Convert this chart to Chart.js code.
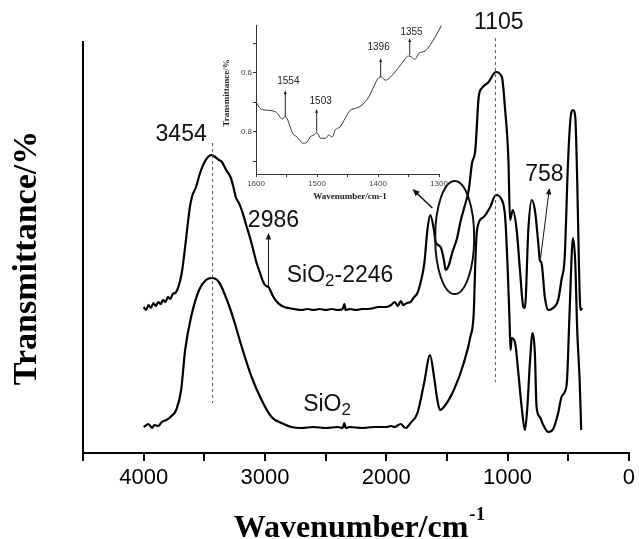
<!DOCTYPE html>
<html>
<head>
<meta charset="utf-8">
<script src="https://cdn.jsdelivr.net/npm/chart.js@4.4.0/dist/chart.umd.min.js"></script>
<style>
  html, body { margin: 0; padding: 0; background: #fff; }
  #wrap { position: relative; width: 639px; height: 539px; }
  #mainChart { position: absolute; left: 0; top: 0; }
  #insetChart { position: absolute; left: 200px; top: 0; }
</style>
</head>
<body>
<div id="wrap">
  <canvas id="mainChart" width="639" height="539"></canvas>
  <canvas id="insetChart" width="250" height="212"></canvas>
</div>
<script>
'use strict';

// SiO2-2246 spectrum (upper trace), arbitrary offset units
const upperWn = [4000, 3980, 3960, 3940, 3920, 3900, 3880, 3860, 3840, 3820, 3800, 3780, 3760, 3740, 3723, 3700,
  3682, 3662, 3642, 3620, 3600, 3568, 3535, 3502, 3470, 3440, 3410, 3380, 3355, 3320, 3281, 3260, 3241, 3215,
  3192, 3155, 3118, 3090, 3069, 3040, 3011, 2990, 2971, 2950, 2930, 2900, 2872, 2840, 2807, 2760, 2700, 2650,
  2600, 2550, 2500, 2450, 2400, 2360, 2345, 2335, 2300, 2250, 2200, 2150, 2100, 2070, 2000, 1960, 1930, 1905,
  1880, 1860, 1830, 1800, 1770, 1743, 1718, 1686, 1661, 1637, 1607, 1593, 1552, 1525, 1511, 1484, 1457, 1416,
  1389, 1356, 1320, 1293, 1266, 1238, 1211, 1156, 1097, 1047, 1020, 993, 980, 957, 925, 898, 870, 857, 829, 802,
  775, 747, 734, 720, 693, 665, 624, 583, 556, 529, 502, 480, 461, 442, 426, 412, 399, 385];
const upperT = [146, 143, 148, 145, 150, 147, 151, 149, 153, 151, 156, 154, 159, 160, 163, 172,
  183, 202, 223, 245, 257, 266, 280, 290, 296, 298, 296, 293, 291, 283, 275, 266, 256, 250,
  243, 228, 213, 200, 190, 180, 170, 167, 166, 161, 156, 151, 148, 146, 145, 144, 143, 144,
  143, 144, 143, 144, 143, 144, 149, 143, 144, 143, 144, 144, 145, 146, 146, 148, 151, 147,
  152, 148, 150, 151, 156, 160, 170, 190, 223, 238, 223, 211, 206, 193, 183, 188, 200, 215,
  231, 246, 263, 290, 303, 356, 365, 371, 381, 376, 343, 293, 233, 243, 223, 183, 146, 145, 223, 253,
  243, 210, 193, 190, 156, 143, 145, 153, 173, 196, 290, 336, 343, 336, 273, 190, 143, 145];

// SiO2 spectrum (lower trace)
const lowerWn = [4000, 3960, 3930, 3912, 3880, 3850, 3813, 3770, 3732, 3691, 3658, 3609, 3543, 3486, 3437, 3380,
  3298, 3257, 3191, 3110, 3028, 2946, 2864, 2782, 2700, 2600, 2500, 2400, 2360, 2345, 2335, 2300, 2200, 2100,
  2000, 1960, 1931, 1882, 1841, 1800, 1743, 1688, 1639, 1606, 1579, 1557, 1525, 1443, 1361, 1307, 1279, 1266,
  1252, 1197, 1143, 1097, 1047, 1020, 1001, 984, 975, 966, 938, 911, 884, 857, 837, 816, 794, 775, 761, 734, 706,
  665, 624, 583, 556, 529, 510, 489, 461, 442, 426, 406, 393];
const lowerT = [26, 29, 25, 28, 27, 31, 33, 37, 43, 63, 103, 136, 163, 173, 175, 171,
  148, 133, 106, 76, 53, 36, 30, 26, 25, 26, 25, 26, 25, 30, 25, 26, 25, 26,
  26, 27, 26, 29, 25, 30, 40, 70, 98, 76, 53, 43, 46, 63, 90, 116, 140, 190,
  223, 236, 246, 258, 253, 236, 190, 133, 103, 115, 110, 80, 46, 23, 46, 90, 120, 100, 46, 36, 28,
  21, 24, 40, 56, 61, 73, 140, 215, 190, 123, 73, 23];

// inset: 1600-1300 cm-1 detail of SiO2-2246
const insetWn = [1600, 1593, 1585, 1568, 1563, 1557, 1553, 1549, 1544, 1540, 1533, 1522, 1516, 1511, 1505, 1500,
  1494, 1486, 1481, 1475, 1470, 1462, 1454, 1445, 1437, 1426, 1415, 1407, 1400, 1395, 1388, 1382, 1372, 1361,
  1350, 1345, 1340, 1333, 1322, 1311, 1300, 1296];
const insetT = [0.698, 0.721, 0.726, 0.732, 0.743, 0.757, 0.749, 0.755, 0.783, 0.805, 0.817, 0.839, 0.834, 0.817,
  0.811, 0.803, 0.822, 0.822, 0.811, 0.817, 0.794, 0.783, 0.755, 0.726, 0.721, 0.709, 0.681, 0.647, 0.619, 0.614,
  0.625, 0.619, 0.597, 0.568, 0.543, 0.546, 0.555, 0.534, 0.525, 0.495, 0.455, 0.440];

const peakLabels = ['3454', '1105', '2986', '758'];
const insetPeaks = ['1554', '1503', '1396', '1355'];

const SANS = "'Liberation Sans', Arial, sans-serif";
const SERIF = "'Liberation Serif', 'Times New Roman', serif";

function toPoints(xs, ys) {
  return xs.map(function (x, i) { return { x: x, y: ys[i] }; });
}

function drawArrow(ctx, x1, y1, x2, y2, head, width) {
  const ang = Math.atan2(y2 - y1, x2 - x1);
  ctx.lineWidth = width;
  ctx.beginPath();
  ctx.moveTo(x1, y1);
  ctx.lineTo(x2 - Math.cos(ang) * head * 0.8, y2 - Math.sin(ang) * head * 0.8);
  ctx.stroke();
  ctx.beginPath();
  ctx.moveTo(x2, y2);
  ctx.lineTo(x2 - head * Math.cos(ang - 0.4), y2 - head * Math.sin(ang - 0.4));
  ctx.lineTo(x2 - head * Math.cos(ang + 0.4), y2 - head * Math.sin(ang + 0.4));
  ctx.closePath();
  ctx.fill();
}

// text with a subscript piece, centred on (cx, cy)
function drawParts(ctx, parts, cx, cy, size) {
  const subSize = Math.round(size * 0.72);
  let total = 0;
  parts.forEach(function (p) {
    ctx.font = (p.sub ? subSize : size) + 'px ' + SANS;
    p.w = ctx.measureText(p.t).width;
    total += p.w;
  });
  let x = cx - total / 2;
  ctx.textAlign = 'left';
  ctx.textBaseline = 'middle';
  parts.forEach(function (p) {
    ctx.font = (p.sub ? subSize : size) + 'px ' + SANS;
    ctx.fillText(p.t, x, p.sub ? cy + size * 0.22 : cy);
    x += p.w;
  });
}

const mainNotes = {
  id: 'mainNotes',
  afterDraw: function (chart) {
    const ctx = chart.ctx;
    const sx = chart.scales.x, sy = chart.scales.y;
    const px = function (w) { return sx.getPixelForValue(w); };
    const py = function (v) { return sy.getPixelForValue(v); };
    ctx.save();

    // dashed peak markers
    ctx.strokeStyle = '#555';
    ctx.lineWidth = 1;
    ctx.setLineDash([3, 3]);
    ctx.beginPath();
    ctx.moveTo(px(3432), py(310)); ctx.lineTo(px(3432), py(50));
    ctx.moveTo(px(1100), py(415)); ctx.lineTo(px(1100), py(71));
    ctx.stroke();
    ctx.setLineDash([]);

    ctx.fillStyle = '#111';
    ctx.strokeStyle = '#111';
    ctx.font = '23px ' + SANS;
    ctx.textAlign = 'center';
    ctx.textBaseline = 'middle';
    ctx.fillText(peakLabels[0], px(3691), py(318));
    ctx.fillText(peakLabels[1], px(1072), py(430));
    ctx.fillText(peakLabels[2], px(2930), py(232));
    ctx.fillText(peakLabels[3], px(696), py(278));

    drawParts(ctx, [{ t: 'SiO' }, { t: '2', sub: true }, { t: '-2246' }], px(2381), py(177), 23);
    drawParts(ctx, [{ t: 'SiO' }, { t: '2', sub: true }], px(2488), py(48), 23);

    drawArrow(ctx, px(2971), py(166), px(2971), py(220), 7, 1);
    drawArrow(ctx, px(728), py(195), px(655), py(265), 7, 1);
    drawArrow(ctx, px(1620), py(245), px(1784), py(264), 8, 1.5);

    // ellipse round the 1600-1300 region
    ctx.lineWidth = 2;
    ctx.beginPath();
    ctx.ellipse(px(1436), py(215.5), 19.5, 56.5, 0, 0, Math.PI * 2);
    ctx.stroke();

    // axis titles
    ctx.fillStyle = '#000';
    ctx.font = 'bold 34px ' + SERIF;
    ctx.save();
    ctx.translate(27, 258);
    ctx.rotate(-Math.PI / 2);
    ctx.textAlign = 'center';
    ctx.textBaseline = 'middle';
    ctx.fillText('Transmittance/%', 0, 0);
    ctx.restore();

    ctx.font = 'bold 32px ' + SERIF;
    const mainW = ctx.measureText('Wavenumber/cm').width;
    ctx.font = 'bold 19px ' + SERIF;
    const supW = ctx.measureText('-1').width;
    const startX = (chart.chartArea.left + chart.chartArea.right) / 2 + 3 - (mainW + supW) / 2;
    ctx.textAlign = 'left';
    ctx.textBaseline = 'alphabetic';
    ctx.font = 'bold 32px ' + SERIF;
    ctx.fillText('Wavenumber/cm', startX, 537);
    ctx.font = 'bold 19px ' + SERIF;
    ctx.fillText('-1', startX + mainW + 1, 520);
    ctx.restore();
  }
};

const insetNotes = {
  id: 'insetNotes',
  afterDraw: function (chart) {
    const ctx = chart.ctx;
    const sx = chart.scales.x, sy = chart.scales.y;
    const px = function (w) { return sx.getPixelForValue(w); };
    const py = function (v) { return sy.getPixelForValue(v); };
    const marks = [
      { wn: 1552, from: 0.749, to: 0.659, lw: 1547, lv: 0.628 },
      { wn: 1500.5, from: 0.800, to: 0.723, lw: 1494, lv: 0.696 },
      { wn: 1395.6, from: 0.614, to: 0.551, lw: 1399, lv: 0.512 },
      { wn: 1348, from: 0.540, to: 0.483, lw: 1345, lv: 0.464 }
    ];
    ctx.save();
    ctx.fillStyle = '#222';
    ctx.strokeStyle = '#222';
    marks.forEach(function (m, i) {
      drawArrow(ctx, px(m.wn), py(m.from), px(m.wn), py(m.to), 4, 1);
      ctx.font = '10px ' + SANS;
      ctx.textAlign = 'center';
      ctx.textBaseline = 'middle';
      ctx.fillText(insetPeaks[i], px(m.lw), py(m.lv));
    });

    ctx.fillStyle = '#222';
    ctx.font = 'bold 9px ' + SERIF;
    ctx.textAlign = 'center';
    ctx.textBaseline = 'middle';
    ctx.fillText('Wavenumber/cm-1', 150, 197);
    ctx.translate(27, 93);
    ctx.rotate(-Math.PI / 2);
    ctx.fillText('Transmittance/%', 0, 0);
    ctx.restore();
  }
};

new Chart(document.getElementById('mainChart'), {
  type: 'line',
  data: {
    datasets: [
      {
        label: 'SiO2-2246',
        data: toPoints(upperWn, upperT),
        borderColor: '#000',
        borderWidth: 2.2,
        pointRadius: 0,
        cubicInterpolationMode: 'monotone'
      },
      {
        label: 'SiO2',
        data: toPoints(lowerWn, lowerT),
        borderColor: '#000',
        borderWidth: 2.2,
        pointRadius: 0,
        cubicInterpolationMode: 'monotone'
      }
    ]
  },
  options: {
    responsive: false,
    animation: false,
    devicePixelRatio: 1,
    layout: { padding: { top: 42, right: 6, left: 0, bottom: 0 } },
    plugins: { legend: { display: false }, tooltip: { enabled: false } },
    scales: {
      x: {
        type: 'linear',
        min: 0,
        max: 4500,
        reverse: true,
        afterFit: function (scale) { scale.height = 86; },
        border: { display: true, color: '#000', width: 2 },
        grid: { display: true, drawOnChartArea: false, drawTicks: true, tickLength: 8, color: '#000', lineWidth: 2 },
        ticks: {
          stepSize: 500,
          autoSkip: false,
          maxRotation: 0,
          padding: 4,
          color: '#000',
          font: { family: SANS, size: 22 },
          callback: function (v) { return v % 1000 === 0 ? String(v) : ''; }
        }
      },
      y: {
        type: 'linear',
        min: 0,
        max: 411,
        afterFit: function (scale) { scale.width = 83; },
        border: { display: true, color: '#000', width: 2 },
        grid: { display: false, drawTicks: false },
        ticks: { display: false }
      }
    }
  },
  plugins: [mainNotes]
});

new Chart(document.getElementById('insetChart'), {
  type: 'line',
  data: {
    datasets: [{
      label: 'SiO2-2246 detail',
      data: toPoints(insetWn, insetT),
      borderColor: '#333',
      borderWidth: 1,
      pointRadius: 0,
      clip: false,
      cubicInterpolationMode: 'monotone'
    }]
  },
  options: {
    responsive: false,
    animation: false,
    devicePixelRatio: 1,
    layout: { padding: { top: 25, right: 11, left: 0, bottom: 0 } },
    plugins: { legend: { display: false }, tooltip: { enabled: false } },
    scales: {
      x: {
        type: 'linear',
        min: 1300,
        max: 1600,
        reverse: true,
        afterFit: function (scale) { scale.height = 38; },
        border: { display: true, color: '#333', width: 1 },
        grid: { display: true, drawOnChartArea: false, drawTicks: true, tickLength: 3, color: '#333', lineWidth: 1 },
        ticks: {
          stepSize: 50,
          autoSkip: false,
          maxRotation: 0,
          padding: 2,
          color: '#444',
          font: { family: SANS, size: 8 },
          callback: function (v) { return v % 100 === 0 ? String(v) : ''; }
        }
      },
      y: {
        type: 'linear',
        min: 0.438,
        max: 0.943,
        reverse: true,
        afterFit: function (scale) { scale.width = 56; },
        border: { display: true, color: '#333', width: 1 },
        grid: { display: true, drawOnChartArea: false, drawTicks: true, tickLength: 3, color: '#333', lineWidth: 1 },
        ticks: {
          stepSize: 0.1,
          includeBounds: false,
          autoSkip: false,
          padding: 1,
          color: '#444',
          font: { family: SANS, size: 8 },
          callback: function (v) {
            const k = Math.round(v * 10);
            return k === 6 || k === 8 ? (k / 10).toFixed(1) : '';
          }
        }
      }
    }
  },
  plugins: [insetNotes]
});
</script>
</body>
</html>
